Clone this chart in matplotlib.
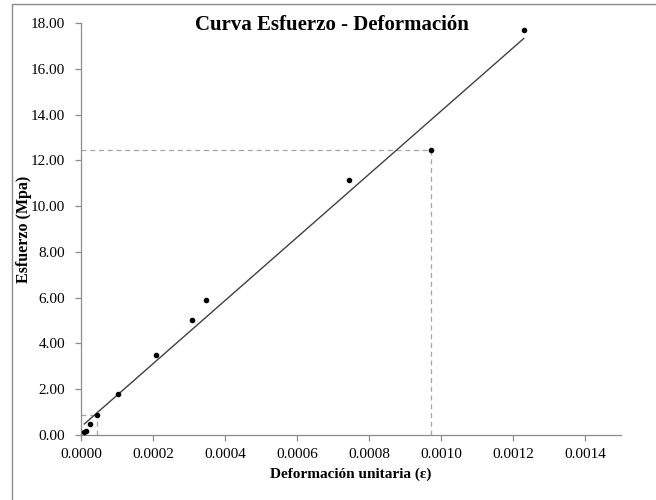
import matplotlib.pyplot as plt
import numpy as np
from matplotlib.patches import Rectangle

plt.rcParams['font.family'] = ['Liberation Serif', 'DejaVu Serif']

# data
deformacion = [0.0000092, 0.0000139, 0.000025, 0.0000453, 0.000103, 0.000208,
               0.000308, 0.000347, 0.000744, 0.000972, 0.00123]
esfuerzo = [0.12, 0.19, 0.47, 0.89, 1.79, 3.49, 5.02, 5.90, 11.14, 12.45, 17.70]
idx_limite = [3, 9]   # points marked with dashed guide lines

x_ticks = [0.0, 0.0002, 0.0004, 0.0006, 0.0008, 0.0010, 0.0012, 0.0014]
y_ticks = [0, 2, 4, 6, 8, 10, 12, 14, 16, 18]

fig = plt.figure(figsize=(6.56, 5.0), dpi=100)
ax = fig.add_axes([81/656, 1 - 435/500, 540/656, 412/500])

# figure border (chart area frame)
fig.patches.append(Rectangle((12/656, -0.1), 1.2, (500 - 4)/500 + 0.1,
                             transform=fig.transFigure, fill=False,
                             edgecolor='#8c8c8c', linewidth=1.0))

x = np.array(deformacion)
y = np.array(esfuerzo)

# dashed guide lines
for i in idx_limite:
    ax.plot([0, x[i]], [y[i], y[i]], color='#a6a6a6', lw=0.9, ls=(0, (4, 3)), zorder=1)
    ax.plot([x[i], x[i]], [0, y[i]], color='#a6a6a6', lw=0.9, ls=(0, (4, 3)), zorder=1)

# linear trendline
m, b = np.polyfit(x, y, 1)
xl = np.array([x.min(), x.max()])
ax.plot(xl, m*xl + b, color='#404040', lw=1.0, zorder=2)

ax.plot(x, y, 'o', color='black', markersize=3.0, zorder=3)

ax.set_xlim(0, 0.0015)
ax.set_ylim(0, 18)
ax.set_xticks(x_ticks)
ax.set_xticklabels(["%.4f" % t for t in x_ticks])
ax.set_yticks(y_ticks)
ax.set_yticklabels(["%.2f" % t for t in y_ticks])

for s in ['top', 'right']:
    ax.spines[s].set_visible(False)
for s in ['left', 'bottom']:
    ax.spines[s].set_color('#8c8c8c')
    ax.spines[s].set_linewidth(0.9)
ax.tick_params(axis='both', colors='#8c8c8c', labelcolor='black', labelsize=11,
               length=4, width=0.9, direction='out')
ax.tick_params(axis='y', pad=7.5)
ax.tick_params(axis='x', pad=5)

ax.set_xlabel("Deformación unitaria (ε)", fontsize=11, fontweight='bold', labelpad=5)
ax.set_ylabel("Esfuerzo (Mpa)", fontsize=11.5, fontweight='bold', va='center')
ax.yaxis.set_label_coords(-0.105, 0.5)

fig.text(332/656, 1 - 25/500, "Curva Esfuerzo - Deformación", ha='center', va='center',
         fontsize=15, fontweight='bold')

fig.savefig("out.png", dpi=100)
